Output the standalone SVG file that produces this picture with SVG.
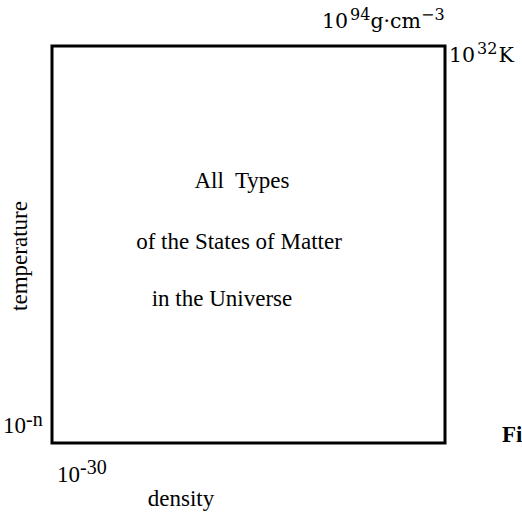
<svg xmlns="http://www.w3.org/2000/svg" width="522" height="513" viewBox="0 0 522 513">
<style>
text{font-family:"Liberation Serif","Times New Roman",serif;fill:#000;font-size:23px}
.c{font-family:"DejaVu Serif","Liberation Serif",serif;font-size:20.5px}
.sup{font-size:16px}
.s2{font-size:20px}
</style>
<rect width="522" height="513" fill="#fff"/>
<g id="box"><rect x="52" y="46" width="393" height="397" fill="none" stroke="#000" stroke-width="3"/></g>
<g id="labels">
<text class="c" x="322" y="28">10<tspan class="sup" dx="2" dy="-8">94</tspan><tspan dy="8">g·cm</tspan><tspan class="sup" dy="-8">−3</tspan></text>
<text class="c" x="449" y="62" font-size="22">10<tspan class="sup" dx="2" dy="-8" font-size="17">32</tspan><tspan dx="1" dy="8">K</tspan></text>
<text x="242" y="188" text-anchor="middle" xml:space="preserve">All  Types</text>
<text x="239" y="249" text-anchor="middle" font-size="23.5">of the States of Matter</text>
<text x="222" y="306" text-anchor="middle">in the Universe</text>
<text transform="translate(27,256) rotate(-90)" text-anchor="middle" font-size="22">temperature</text>
<text x="3" y="433">10<tspan class="s2" dy="-7">-n</tspan></text>
<text x="57" y="482">10<tspan class="s2" dy="-8">-30</tspan></text>
<text x="181" y="506" text-anchor="middle">density</text>
<text x="502" y="442" font-weight="bold" font-size="21">Fi</text>
</g>
</svg>
